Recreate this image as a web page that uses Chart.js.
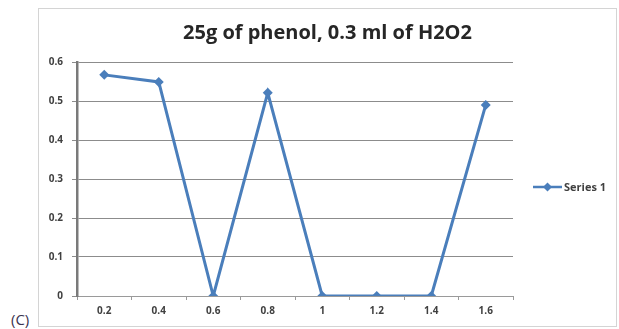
<!DOCTYPE html>
<html lang="en">
<head>
  <meta charset="UTF-8">
  <title>25g of phenol, 0.3 ml of H2O2</title>
  <script src="https://cdn.jsdelivr.net/npm/chart.js@4.4.0/dist/chart.umd.min.js"></script>
  <style>
    html, body { margin: 0; padding: 0; background: #fff; }
    body { width: 619px; height: 329px; position: relative; overflow: hidden; }
    .frame {
      position: absolute; left: 38px; top: 8px;
      width: 579px; height: 319px;
      box-sizing: border-box;
      border: 1px solid #d4d4d4;
    }
    .frame canvas { display: block; }
    .panel-tag {
      position: absolute; left: 11px; top: 312px;
      font: 15px/1 "Open Sans", sans-serif; color: #3a3350;
    }
  </style>
</head>
<body>
  <div class="frame">
    <canvas id="phenolChart" width="577" height="317"></canvas>
  </div>
  <span class="panel-tag">(C)</span>

  <script>
    // data
    const categories = ['0.2', '0.4', '0.6', '0.8', '1', '1.2', '1.4', '1.6'];
    const series1 = [0.567, 0.549, 0, 0.521, 0, 0, 0, 0.49];
    const yTicks = [0, 0.1, 0.2, 0.3, 0.4, 0.5, 0.6];

    const lineBlue = '#4a7ebb';
    const fontFamily = '"Open Sans", sans-serif';

    // legend drawn on the right, Excel style: line with a diamond in the middle
    const sideLegend = {
      id: 'sideLegend',
      afterDraw(chart) {
        const ctx = chart.ctx;
        const ds = chart.data.datasets[0];
        const x0 = 494, x1 = 523, y = 178;
        ctx.save();
        ctx.strokeStyle = ds.borderColor;
        ctx.lineWidth = 2.5;
        ctx.beginPath();
        ctx.moveTo(x0, y);
        ctx.lineTo(x1, y);
        ctx.stroke();
        const cx = (x0 + x1) / 2, r = 4.5;
        ctx.fillStyle = ds.borderColor;
        ctx.beginPath();
        ctx.moveTo(cx, y - r);
        ctx.lineTo(cx + r, y);
        ctx.lineTo(cx, y + r);
        ctx.lineTo(cx - r, y);
        ctx.closePath();
        ctx.fill();
        ctx.fillStyle = '#404040';
        ctx.font = 'bold 11px ' + fontFamily;
        ctx.textBaseline = 'middle';
        ctx.fillText(ds.label, x1 + 2, y + 0.5);
        ctx.restore();
      }
    };

    const ctx = document.getElementById('phenolChart').getContext('2d');
    new Chart(ctx, {
      type: 'line',
      data: {
        labels: categories,
        datasets: [{
          label: 'Series 1',
          data: series1,
          borderColor: lineBlue,
          backgroundColor: lineBlue,
          borderWidth: 3,
          pointStyle: 'rectRot',
          pointRadius: 5,
          pointBorderWidth: 0,
          tension: 0
        }]
      },
      options: {
        responsive: false,
        animation: false,
        layout: { padding: 0 },
        plugins: {
          legend: { display: false },
          tooltip: { enabled: false },
          title: {
            display: true,
            text: '25g of phenol, 0.3 ml of H2O2',
            color: '#262626',
            font: { family: fontFamily, size: 20, weight: 'bold' },
            padding: { top: 12, bottom: 17 }
          }
        },
        scales: {
          x: {
            offset: true,
            grid: {
              offset: true,
              drawOnChartArea: false,
              drawTicks: true,
              tickLength: 4,
              color: '#9a9a9a'
            },
            border: { color: '#9a9a9a', width: 1 },
            ticks: {
              color: '#404040',
              padding: 5,
              font: { family: fontFamily, size: 10, weight: 'bold' }
            },
            afterFit(scale) { scale.height = 30; }
          },
          y: {
            min: 0,
            max: 0.6,
            afterBuildTicks(scale) {
              scale.ticks = yTicks.map(v => ({ value: v }));
            },
            grid: {
              color: '#8c8c8c',
              lineWidth: 1,
              tickLength: 5
            },
            border: { color: '#7a7a7a', width: 2.5 },
            ticks: {
              color: '#404040',
              padding: 9,
              font: { family: fontFamily, size: 10, weight: 'bold' },
              callback: v => String(Math.round(v * 10) / 10)
            },
            afterFit(scale) { scale.width = 38; }
          },
          // empty right-hand strip that leaves room for the legend,
          // so the title stays centred on the whole frame
          legendSpace: {
            position: 'right',
            ticks: { display: false },
            grid: { display: false },
            border: { display: false },
            afterFit(scale) { scale.width = 103; }
          }
        }
      },
      plugins: [sideLegend]
    });
  </script>
</body>
</html>
